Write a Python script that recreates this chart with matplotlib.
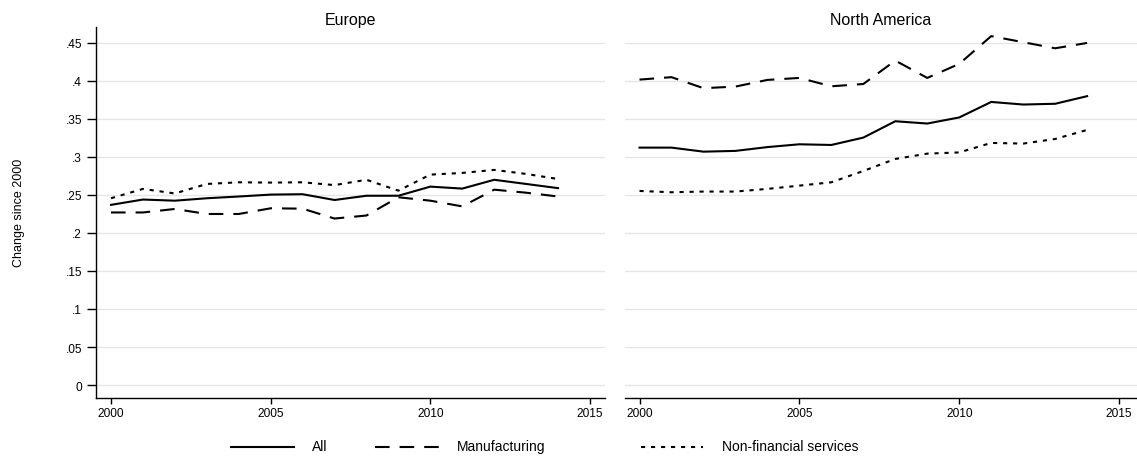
import matplotlib
matplotlib.use("Agg")
import matplotlib.pyplot as plt
from matplotlib.lines import Line2D
import numpy as np

plt.rcParams['font.family'] = ['Liberation Sans', 'DejaVu Sans']

years = np.arange(2000, 2015)

# Europe
eu_all = [0.237, 0.244, 0.2425, 0.2457, 0.248, 0.2505, 0.251, 0.2434, 0.249,
          0.249, 0.261, 0.2584, 0.270, 0.2645, 0.259]
eu_manuf = [0.227, 0.227, 0.2316, 0.225, 0.225, 0.2325, 0.232, 0.219, 0.223,
            0.247, 0.2425, 0.235, 0.257, 0.253, 0.248]
eu_serv = [0.2457, 0.258, 0.252, 0.2645, 0.2667, 0.2663, 0.2667, 0.263, 0.270,
           0.2557, 0.2768, 0.279, 0.283, 0.2777, 0.271]

# North America
na_all = [0.3123, 0.3123, 0.307, 0.308, 0.313, 0.3167, 0.3158, 0.3255, 0.347,
          0.344, 0.352, 0.3724, 0.369, 0.370, 0.380]
na_manuf = [0.4018, 0.405, 0.3905, 0.3926, 0.4014, 0.404, 0.393, 0.396, 0.4268,
            0.404, 0.4225, 0.459, 0.451, 0.443, 0.450]
na_serv = [0.2553, 0.2536, 0.2545, 0.2545, 0.258, 0.2623, 0.2667, 0.2816, 0.2974,
           0.3044, 0.306, 0.3185, 0.3176, 0.3237, 0.3356]

panels = ["Europe", "North America"]
series_names = ["All", "Manufacturing", "Non-financial services"]
yticks = [0, .05, .1, .15, .2, .25, .3, .35, .4, .45]
ytick_labels = ["0", ".05", ".1", ".15", ".2", ".25", ".3", ".35", ".4", ".45"]
xticks = [2000, 2005, 2010, 2015]

W, H = 1137, 460
fig = plt.figure(figsize=(W / 100, H / 100), dpi=100)

styles = [dict(linestyle='-'),
          dict(linestyle=(0, (7, 4.8))),
          dict(linestyle=(0, (2, 2.8)))]
lw = 1.5

def make_ax(left_px, width_px, xmax, data, title, first):
    ax = fig.add_axes([left_px / W, 1 - 398.7 / H, width_px / W, (398.7 - 28) / H])
    for vals, st in zip(data, styles):
        ax.plot(years, vals, color='black', lw=lw, **st)
    ax.set_xlim(1999.53, xmax)
    ax.set_ylim(-0.0167, 0.471)
    ax.set_yticks(yticks)
    ax.grid(axis='y', color='#e6e6e6', lw=1)
    ax.set_axisbelow(True)
    ax.spines['top'].set_visible(False)
    ax.spines['right'].set_visible(False)
    ax.spines['bottom'].set_linewidth(1)
    ax.set_xticks(xticks)
    ax.tick_params(axis='x', direction='out', length=4, width=1, labelsize=8.6, pad=3)
    if first:
        ax.set_yticklabels(ytick_labels)
        ax.spines['left'].set_linewidth(1)
        ax.tick_params(axis='y', direction='out', length=6.5, width=1, labelsize=8.6, pad=3.6)
        ax.set_ylabel("Change since 2000", fontsize=9, labelpad=29)
    else:
        ax.spines['left'].set_visible(False)
        ax.tick_params(axis='y', length=0, labelleft=False)
    ax.set_title(title, fontsize=11.5, pad=2)
    return ax

ax1 = make_ax(96, 509, 2015.47, [eu_all, eu_manuf, eu_serv], panels[0], True)
ax2 = make_ax(624.5, 512.5, 2015.56, [na_all, na_manuf, na_serv], panels[1], False)

# legend drawn in figure pixels
leg_y = 1 - 447.5 / H
leg_items = [(231, 294, 312), (375, 440, 457), (641, 703, 722)]
for (x0, x1, xt), name, st in zip(leg_items, series_names, styles):
    fig.add_artist(Line2D([x0 / W, x1 / W], [leg_y, leg_y], transform=fig.transFigure,
                          color='black', lw=lw, **st))
    fig.text(xt / W, leg_y, name, fontsize=10, ha='left', va='center')

fig.savefig("out.png", dpi=100)
